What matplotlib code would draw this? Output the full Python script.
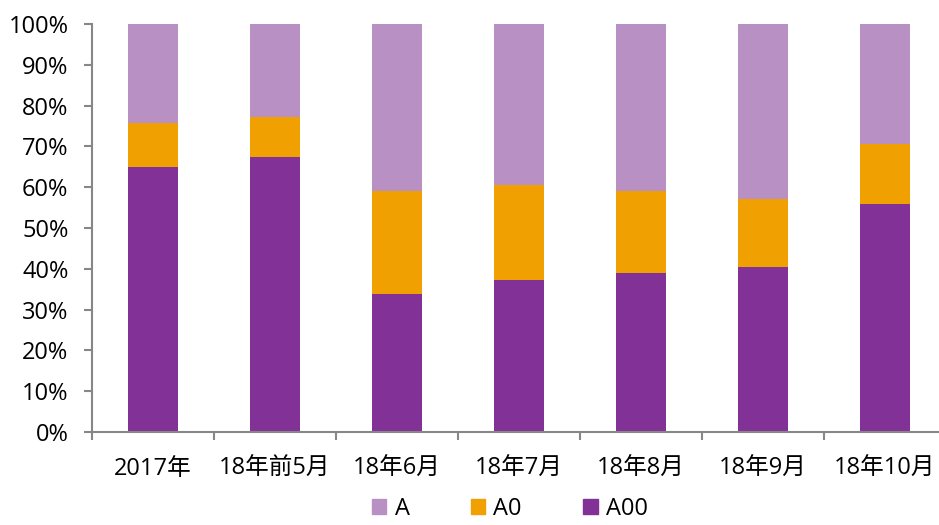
import numpy as np
import matplotlib
matplotlib.use("Agg")
import matplotlib.pyplot as plt
from matplotlib.patches import Patch

plt.rcParams['font.family'] = ['Open Sans', 'Noto Sans CJK SC', 'DejaVu Sans']

# 各时期车型结构占比（%）
periods = ['2017年', '18年前5月', '18年6月', '18年7月', '18年8月', '18年9月', '18年10月']
share_a00 = [64.9, 67.3, 33.9, 37.3, 38.9, 40.4, 55.9]
share_a0 = [10.8, 9.8, 25.1, 23.2, 20.1, 16.6, 14.8]
share_a = [100 - x - y for x, y in zip(share_a00, share_a0)]

c_a = '#B990C3'
c_a0 = '#F0A000'
c_a00 = '#823296'
axis_gray = '#878787'

fig = plt.figure(figsize=(9.39, 5.25), dpi=100)
ax = fig.add_axes([92 / 939, 93 / 525, 854 / 939, 408 / 525])

x = np.arange(len(periods))
w = 0.41
ax.bar(x, share_a00, w, color=c_a00, zorder=2)
ax.bar(x, share_a0, w, bottom=share_a00, color=c_a0, zorder=2)
bottom_a = np.array(share_a00) + np.array(share_a0)
ax.bar(x, share_a, w, bottom=bottom_a, color=c_a, zorder=2)

ax.set_xlim(-0.5, len(periods) - 0.5)
ax.set_ylim(0, 100)
ax.set_yticks(np.arange(0, 101, 10))
ax.set_yticklabels([f'{v}%' for v in range(0, 101, 10)], fontsize=17)
ax.set_xticks(x)
ax.set_xticklabels(periods, fontsize=17)
ax.set_xticks(np.arange(-0.5, len(periods)), minor=True)

for s in ['top', 'right']:
    ax.spines[s].set_visible(False)
for s in ['left', 'bottom']:
    ax.spines[s].set_color(axis_gray)
    ax.spines[s].set_linewidth(1.5)

ax.tick_params(axis='y', length=6, width=1.5, color=axis_gray, pad=11)
ax.tick_params(axis='x', which='major', length=0, pad=18)
ax.tick_params(axis='x', which='minor', length=6, width=1.5, color=axis_gray)

handles = [Patch(color=c_a, label='A'),
           Patch(color=c_a0, label='A0'),
           Patch(color=c_a00, label='A00')]
fig.legend(handles=handles, loc='center', bbox_to_anchor=(510 / 939, 1 - 509 / 525),
           ncol=3, frameon=False, fontsize=17, handlelength=0.6, handleheight=0.6,
           handletextpad=0.35, columnspacing=2.6, borderpad=0.2)

fig.savefig('out.png', dpi=100)
